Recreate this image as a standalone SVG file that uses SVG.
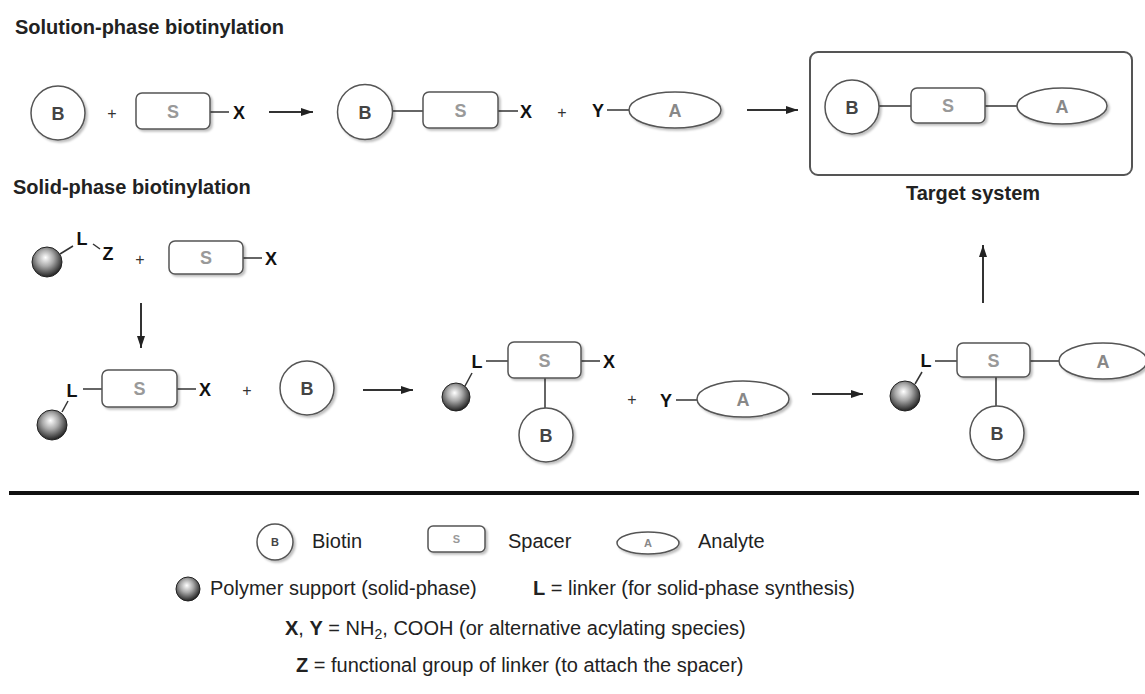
<svg xmlns="http://www.w3.org/2000/svg" width="1145" height="694" viewBox="0 0 1145 694">
<style>
.bg{fill:#fff}
.sh{fill:#fff;stroke:#555;stroke-width:1.5}
.box{fill:none;stroke:#555;stroke-width:2}
.title{font-family:"Liberation Sans",Arial,sans-serif;font-weight:bold;font-size:20px;fill:#222}
.lb{font-family:"Liberation Sans",Arial,sans-serif;font-weight:bold;font-size:18px;text-anchor:middle;fill:#444}
.ls{font-family:"Liberation Sans",Arial,sans-serif;font-weight:bold;font-size:18px;text-anchor:middle;fill:#999}
.la{font-family:"Liberation Sans",Arial,sans-serif;font-weight:bold;font-size:18px;text-anchor:middle;fill:#888}
.at{font-family:"Liberation Sans",Arial,sans-serif;font-weight:bold;font-size:18px;text-anchor:middle;fill:#111}
.pl{font-family:"Liberation Sans",Arial,sans-serif;font-size:16px;text-anchor:middle;fill:#333}
.bond{stroke:#333;stroke-width:1.5;fill:none}
.arr{stroke:#333;stroke-width:2;fill:none;marker-end:url(#ah)}
.sph{fill:url(#sg);stroke:#222;stroke-width:1}
.leg{font-family:"Liberation Sans",Arial,sans-serif;font-size:20px;fill:#222}
.legb{font-weight:bold}
.sm{font-family:"Liberation Sans",Arial,sans-serif;font-weight:bold;font-size:11px;text-anchor:middle}
</style>
<defs>
<marker id="ah" markerUnits="userSpaceOnUse" markerWidth="12" markerHeight="8" refX="12" refY="4" orient="auto">
<path d="M0,0 L12,4 L0,8 z" fill="#222"/>
</marker>
<radialGradient id="sg" cx="45%" cy="40%" r="60%" fx="45%" fy="35%">
<stop offset="0" stop-color="#ffffff"/>
<stop offset="0.45" stop-color="#aaaaaa"/>
<stop offset="1" stop-color="#222222"/>
</radialGradient>
<filter id="ds" x="-20%" y="-20%" width="150%" height="150%">
<feDropShadow dx="2" dy="2" stdDeviation="1.2" flood-color="#000" flood-opacity="0.25"/>
</filter>
</defs>
<rect class="bg" x="0" y="0" width="1145" height="694"/>

<text class="title" x="15" y="34">Solution-phase biotinylation</text>
<text class="title" x="13" y="194">Solid-phase biotinylation</text>

<g id="connectors">
<line class="bond" x1="210" y1="112" x2="229" y2="112"/>
<line class="arr" x1="269" y1="112" x2="313" y2="112"/>
<line class="bond" x1="393" y1="111" x2="423" y2="111"/>
<line class="bond" x1="498" y1="111" x2="518" y2="111"/>
<line class="bond" x1="607" y1="110" x2="629" y2="110"/>
<line class="arr" x1="747" y1="110" x2="798" y2="110"/>
<line class="bond" x1="879" y1="106" x2="911" y2="106"/>
<line class="bond" x1="985" y1="106" x2="1017" y2="106"/>
<line class="bond" x1="60" y1="254" x2="73" y2="246"/>
<line class="bond" x1="93" y1="244" x2="100" y2="249"/>
<line class="bond" x1="243" y1="258" x2="262" y2="258"/>
<line class="arr" x1="141" y1="303" x2="141" y2="348"/>
<line class="bond" x1="62" y1="412" x2="68" y2="401"/>
<line class="bond" x1="83" y1="389" x2="102" y2="389"/>
<line class="bond" x1="177" y1="389" x2="196" y2="389"/>
<line class="arr" x1="363" y1="390" x2="413" y2="390"/>
<line class="bond" x1="465" y1="386" x2="472" y2="373"/>
<line class="bond" x1="486" y1="361" x2="508" y2="361"/>
<line class="bond" x1="581" y1="361" x2="600" y2="361"/>
<line class="bond" x1="545" y1="378" x2="545" y2="408"/>
<line class="bond" x1="676" y1="400" x2="697" y2="400"/>
<line class="arr" x1="812" y1="394" x2="863" y2="394"/>
<line class="bond" x1="915" y1="384" x2="922" y2="372"/>
<line class="bond" x1="935" y1="361" x2="957" y2="361"/>
<line class="bond" x1="1030" y1="361" x2="1060" y2="361"/>
<line class="bond" x1="996" y1="377" x2="996" y2="406"/>
<line class="arr" x1="983" y1="303" x2="983" y2="245"/>
</g>

<g id="biotin1"><circle class="sh" cx="58" cy="113" r="27" filter="url(#ds)"/><text class="lb" x="58" y="119.5">B</text></g>
<g id="plus1"><text class="pl" x="112" y="118.5">+</text></g>
<g id="spacer1"><rect class="sh" x="136" y="93" width="74" height="36" rx="6" filter="url(#ds)"/><text class="ls" x="173" y="117.5">S</text></g>
<g id="x1"><text class="at" x="239" y="118.5">X</text></g>
<g id="biotin2"><circle class="sh" cx="365" cy="112" r="27.5" filter="url(#ds)"/><text class="lb" x="365" y="118.5">B</text></g>
<g id="spacer2"><rect class="sh" x="423" y="92" width="75" height="36" rx="6" filter="url(#ds)"/><text class="ls" x="460.5" y="116.5">S</text></g>
<g id="x2"><text class="at" x="526" y="117.5">X</text></g>
<g id="plus2"><text class="pl" x="562" y="117.5">+</text></g>
<g id="y1"><text class="at" x="598" y="117">Y</text></g>
<g id="analyte1"><ellipse class="sh" cx="675" cy="110" rx="46" ry="18" filter="url(#ds)"/><text class="la" x="675" y="116.5">A</text></g>

<g id="target">
<rect class="box" x="810" y="52" width="322" height="123" rx="8"/>
<text class="title" x="973" y="200" text-anchor="middle">Target system</text>
</g>
<g id="biotin3"><circle class="sh" cx="852" cy="107" r="27" filter="url(#ds)"/><text class="lb" x="852" y="113.5">B</text></g>
<g id="spacer3"><rect class="sh" x="911" y="88" width="74" height="35" rx="6" filter="url(#ds)"/><text class="ls" x="948" y="112">S</text></g>
<g id="analyte3"><ellipse class="sh" cx="1062" cy="106" rx="45" ry="18" filter="url(#ds)"/><text class="la" x="1062" y="112.5">A</text></g>

<g id="support1"><circle class="sph" cx="47" cy="262" r="15"/><text class="at" x="82" y="245" font-size="17">L</text><text class="at" x="108" y="260">Z</text></g>
<g id="plus3"><text class="pl" x="140" y="265">+</text></g>
<g id="spacer4"><rect class="sh" x="169" y="241" width="74" height="33" rx="6" filter="url(#ds)"/><text class="ls" x="206" y="264">S</text></g>
<g id="x3"><text class="at" x="271" y="264.5">X</text></g>

<g id="support2"><circle class="sph" cx="52" cy="425" r="15"/><text class="at" x="72" y="397" font-size="17">L</text></g>
<g id="spacer5"><rect class="sh" x="102" y="370" width="75" height="37" rx="6" filter="url(#ds)"/><text class="ls" x="139.5" y="395">S</text></g>
<g id="x4"><text class="at" x="205" y="395.5">X</text></g>
<g id="plus4"><text class="pl" x="247" y="396">+</text></g>
<g id="biotin5"><circle class="sh" cx="307" cy="388" r="27" filter="url(#ds)"/><text class="lb" x="307" y="394.5">B</text></g>

<g id="support3"><circle class="sph" cx="456" cy="397" r="14"/><text class="at" x="477" y="368" font-size="17">L</text></g>
<g id="spacer6"><rect class="sh" x="508" y="342" width="73" height="36" rx="6" filter="url(#ds)"/><text class="ls" x="544.5" y="366.5">S</text></g>
<g id="x5"><text class="at" x="609" y="367.5">X</text></g>
<g id="biotin6"><circle class="sh" cx="546" cy="435" r="27" filter="url(#ds)"/><text class="lb" x="546" y="441.5">B</text></g>
<g id="plus5"><text class="pl" x="632" y="405">+</text></g>
<g id="y2"><text class="at" x="666" y="406.5">Y</text></g>
<g id="analyte6"><ellipse class="sh" cx="743" cy="399" rx="46" ry="18" filter="url(#ds)"/><text class="la" x="743" y="405.5">A</text></g>

<g id="support4"><circle class="sph" cx="905" cy="396" r="15"/><text class="at" x="926" y="367" font-size="17">L</text></g>
<g id="spacer7"><rect class="sh" x="957" y="343" width="73" height="34" rx="6" filter="url(#ds)"/><text class="ls" x="993.5" y="366.5">S</text></g>
<g id="analyte7"><ellipse class="sh" cx="1103" cy="361" rx="44" ry="18" filter="url(#ds)"/><text class="la" x="1103" y="367.5">A</text></g>
<g id="biotin7"><circle class="sh" cx="997" cy="433" r="27" filter="url(#ds)"/><text class="lb" x="997" y="439.5">B</text></g>

<line x1="9" y1="493" x2="1139" y2="493" stroke="#111" stroke-width="4"/>

<g id="legend">
<circle class="sh" cx="275" cy="542" r="18" filter="url(#ds)"/><text class="sm" x="275" y="546" fill="#444">B</text>
<text class="leg" x="312" y="548">Biotin</text>
<rect class="sh" x="428" y="526" width="57" height="26" rx="5" filter="url(#ds)"/><text class="sm" x="456.5" y="543" fill="#999">S</text>
<text class="leg" x="508" y="548">Spacer</text>
<ellipse class="sh" cx="648" cy="543" rx="31" ry="11" filter="url(#ds)"/><text class="sm" x="648" y="547" fill="#888">A</text>
<text class="leg" x="698" y="548">Analyte</text>
<circle class="sph" cx="188" cy="589" r="12"/>
<text class="leg" x="210" y="595">Polymer support (solid-phase)</text>
<text class="leg" x="533" y="595"><tspan class="legb">L</tspan> = linker (for solid-phase synthesis)</text>
<text class="leg" x="285" y="635"><tspan class="legb">X</tspan>, <tspan class="legb">Y</tspan> = NH<tspan font-size="14" dy="4">2</tspan><tspan dy="-4">, COOH (or alternative acylating species)</tspan></text>
<text class="leg" x="296" y="672"><tspan class="legb">Z</tspan> = functional group of linker (to attach the spacer)</text>
</g>
</svg>
